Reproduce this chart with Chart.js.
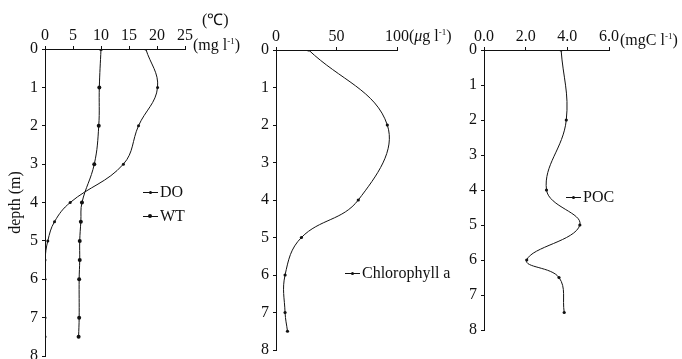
<!DOCTYPE html>
<html>
<head>
<meta charset="utf-8">
<script src="https://cdn.jsdelivr.net/npm/chart.js@4.4.0/dist/chart.umd.min.js"></script>
<style>
  body { margin: 0; width: 682px; height: 359px; overflow: hidden; background: #fff; position: relative; font-family: "Liberation Serif", serif; color: #111; }
  canvas { position: absolute; left: 0; top: 0; }
  .t { position: absolute; font-size: 16px; white-space: nowrap; line-height: 16px; }
  .t sup { font-size: 9px; vertical-align: 6px; line-height: 0; }
  .lg { position: absolute; font-size: 16px; white-space: nowrap; line-height: 16px; }
  .lg .k { display: inline-block; width: 15px; height: 1px; background: #111; vertical-align: middle; position: relative; margin-right: 2px; top: -1px; }
  .lg .k i { position: absolute; left: 6px; top: -1px; width: 3px; height: 3px; border-radius: 50%; background: #111; }
  .lg .k i.big { left: 5px; top: -2px; width: 4px; height: 4px; }
</style>
</head>
<body>
<canvas id="c1" width="682" height="400"></canvas>
<canvas id="c2" width="682" height="400"></canvas>
<canvas id="c3" width="682" height="400"></canvas>

<div class="t" style="left:202px;top:12px">(℃)</div>
<div class="t" style="left:193px;top:37px">(mg l<sup>-1</sup>)</div>
<div class="t" style="left:409px;top:28px">(<i>μ</i>g l<sup>-1</sup>)</div>
<div class="t" style="left:620px;top:32px">(mgC l<sup>-1</sup>)</div>

<div class="lg" style="left:143px;top:184px"><span class="k"><i></i></span>DO</div>
<div class="lg" style="left:143px;top:208px"><span class="k"><i class="big"></i></span>WT</div>
<div class="lg" style="left:345px;top:265px"><span class="k"><i></i></span>Chlorophyll a</div>
<div class="lg" style="left:566px;top:189px"><span class="k"><i></i></span>POC</div>

<script>
const depthTicks = [0, 1, 2, 3, 4, 5, 6, 7, 8];
const tempTicks = [0, 5, 10, 15, 20, 25];
const chlTicks = [0, 50, 100];
const pocTicks = [0, 2, 4, 6];

const doDepth = [0, 1, 2, 3, 4, 4.5, 5, 5.5, 6, 7, 7.5];
const doValues = [18.0, 20.1, 16.7, 14.0, 4.5, 1.7, 0.5, 0, 0, 0, 0];
const wtDepth = [0, 1, 2, 3, 4, 4.5, 5, 5.5, 6, 7, 7.5];
const wtValues = [10.0, 9.7, 9.6, 8.8, 6.6, 6.4, 6.2, 6.2, 6.1, 6.1, 6.0];
const chlDepth = [0, 2, 4, 5, 6, 7, 7.5];
const chlValues = [27, 92, 68, 21, 7.5, 7.5, 9.5];
const pocDepth = [0, 2, 4, 5, 6, 6.5, 7.5];
const pocValues = [3.7, 3.95, 3.0, 4.6, 2.05, 3.6, 3.85];

const INK = '#111';
const FONT = { family: '"Liberation Serif", serif', size: 16 };

function pts(vals, depths) {
  return vals.map((v, i) => ({ x: v, y: depths[i] }));
}

function series(label, vals, depths, radius) {
  return {
    label: label,
    data: pts(vals, depths),
    borderColor: INK,
    backgroundColor: INK,
    borderWidth: 1,
    pointRadius: radius,
    pointBorderWidth: 0,
    tension: 0.4,
    fill: false
  };
}

// area = chart area box in page pixels
function makeChart(id, datasets, xTicks, xFmt, area, yWidth, yTitle) {
  return new Chart(document.getElementById(id), {
    type: 'line',
    data: { datasets: datasets },
    options: {
      responsive: false,
      animation: false,
      devicePixelRatio: 1,
      layout: {
        padding: { left: area.left - yWidth, top: 0, right: 682 - area.right, bottom: 400 - area.bottom }
      },
      plugins: { legend: { display: false }, tooltip: { enabled: false } },
      scales: {
        x: {
          type: 'linear',
          position: 'top',
          min: xTicks[0],
          max: xTicks[xTicks.length - 1],
          afterBuildTicks: s => { s.ticks = xTicks.map(v => ({ value: v })); },
          afterFit: s => { s.height = area.top; },
          border: { display: true, color: INK, width: 1 },
          grid: { drawOnChartArea: false, drawTicks: true, tickLength: 3, color: INK },
          ticks: { font: FONT, color: INK, padding: 1, maxRotation: 0, callback: xFmt }
        },
        y: {
          type: 'linear',
          reverse: true,
          min: 0,
          max: 8,
          afterBuildTicks: s => { s.ticks = depthTicks.map(v => ({ value: v })); },
          afterFit: s => { s.width = yWidth; },
          border: { display: true, color: INK, width: 1 },
          grid: { drawOnChartArea: false, drawTicks: true, tickLength: 3, color: INK },
          ticks: { font: FONT, color: INK, padding: 4 },
          title: { display: !!yTitle, text: yTitle || '', font: FONT, color: INK, padding: { top: 6, bottom: 0 } }
        }
      }
    }
  });
}

makeChart('c1', [
  series('DO', doValues, doDepth, 1.5),
  series('WT', wtValues, wtDepth, 2)
], tempTicks, v => String(v), { left: 45, right: 185, top: 49, bottom: 356 }, 45, 'depth (m)');

makeChart('c2', [
  series('Chlorophyll a', chlValues, chlDepth, 1.6)
], chlTicks, v => String(v), { left: 276, right: 397, top: 50, bottom: 350 }, 20, null);

makeChart('c3', [
  series('POC', pocValues, pocDepth, 1.6)
], pocTicks, v => Number(v).toFixed(1), { left: 484, right: 609, top: 50, bottom: 330 }, 20, null);
</script>
</body>
</html>
